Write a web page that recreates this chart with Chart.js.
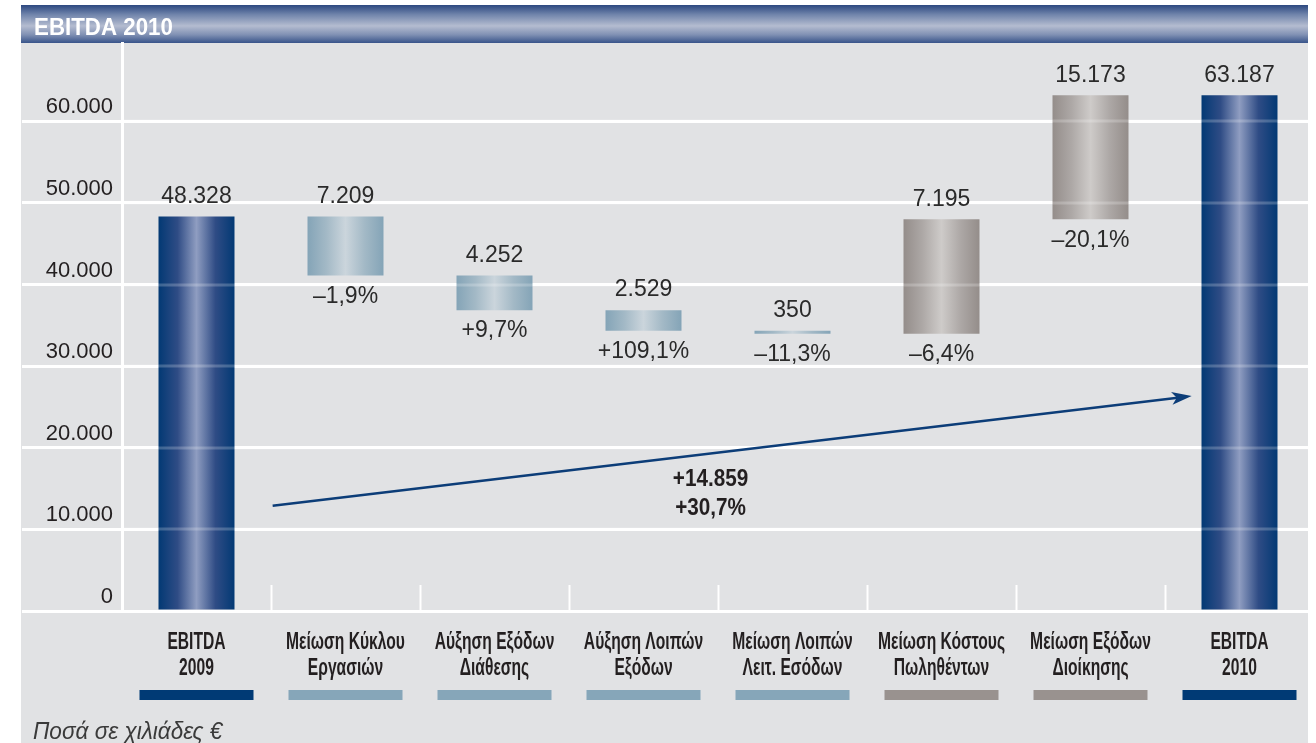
<!DOCTYPE html>
<html>
<head>
<meta charset="utf-8">
<title>EBITDA 2010</title>
<script src="https://cdn.jsdelivr.net/npm/chart.js@4.4.1/dist/chart.umd.min.js"></script>
<style>
  html, body { margin: 0; padding: 0; background: #fff; }
  body { width: 1316px; height: 743px; overflow: hidden; }
  canvas { display: block; }
</style>
</head>
<body>
<canvas class="ebitdaChart" width="1316" height="743"></canvas>
<script>
"use strict";

const categories = [
  ["EBITDA", "2009"],
  ["Μείωση Κύκλου", "Εργασιών"],
  ["Αύξηση Εξόδων", "Διάθεσης"],
  ["Αύξηση Λοιπών", "Εξόδων"],
  ["Μείωση Λοιπών", "Λειτ. Εσόδων"],
  ["Μείωση Κόστους", "Πωληθέντων"],
  ["Μείωση Εξόδων", "Διοίκησης"],
  ["EBITDA", "2010"],
];
// floating bars: bottom and top of each block (thousand €)
const barLow = [0, 41119, 36867, 34338, 33988, 33988, 48014, 0];
const barHigh = [48328, 48328, 41119, 36867, 34338, 48014, 63187, 63187];
const valueLabels = ["48.328", "7.209", "4.252", "2.529", "350", "7.195", "15.173", "63.187"];
const changeLabels = ["", "–1,9%", "+9,7%", "+109,1%", "–11,3%", "–6,4%", "–20,1%", ""];
const groups = ["total", "blue", "blue", "blue", "blue", "gray", "gray", "total"];

const yTicks = [0, 10000, 20000, 30000, 40000, 50000, 60000];
const yMax = 69600;

// arrow from 2009 to 2010: (category position, value), tip at arrowTo
const arrowFrom = [0.511, 12903];
const arrowTo = [6.679, 26345];
const arrowLabelAt = [3.45, 14280];
const arrowLabels = ["+14.859", "+30,7%"];

const title = "EBITDA 2010";
const footnote = "Ποσά σε χιλιάδες €";

const swatch = { total: "#003a75", blue: "#86a6b9", gray: "#99928f" };
const shades = {
  total: ["#023974", "#2f4c85", "#8f9dc1", "#2f4c85", "#023974"],
  blue: ["#84a4b7", "#a3b9c6", "#cbd5dc", "#a3b9c6", "#84a4b7"],
  gray: ["#948d8a", "#ada8a6", "#cecbc9", "#ada8a6", "#948d8a"],
};

const sans = "'Liberation Sans', Arial, sans-serif";
const ink = "#231f20";

const fmt = (v) => String(v).replace(/\B(?=(\d{3})+(?!\d))/g, ".");

// text squeezed horizontally, to get the condensed look of the original
function squeezed(c, text, x, y, sx, align) {
  c.save();
  c.translate(x, y);
  c.scale(sx, 1);
  c.textAlign = align;
  c.fillText(text, 0, 0);
  c.restore();
}

const ctx = document.querySelector(".ebitdaChart");

const barFill = (c) => {
  const xs = c.chart.scales.x;
  const stops = shades[groups[c.dataIndex]];
  if (!xs || !xs.width) return stops[0];
  const cx = xs.getPixelForValue(c.dataIndex);
  const half = (xs.width / categories.length) * 0.51 / 2;
  const g = c.chart.ctx.createLinearGradient(cx - half, 0, cx + half, 0);
  stops.forEach((col, i) => g.addColorStop(i / (stops.length - 1), col));
  return g;
};

const framePlugin = {
  id: "frame",
  beforeDraw(chart) {
    const c = chart.ctx;
    c.save();
    c.fillStyle = "#fff";
    c.fillRect(0, 0, chart.width, chart.height);
    c.fillStyle = "#e1e2e4";
    c.fillRect(21, 43, 1287, 700);
    const g = c.createLinearGradient(0, 5, 0, 43);
    g.addColorStop(0, "#2c4880");
    g.addColorStop(0.25, "#7084ab");
    g.addColorStop(0.55, "#b4bcd0");
    g.addColorStop(0.78, "#8191b4");
    g.addColorStop(1, "#38548a");
    c.fillStyle = g;
    c.fillRect(21, 5, 1287, 38);
    c.fillStyle = "#fff";
    c.font = "bold 23px " + sans;
    c.textBaseline = "alphabetic";
    squeezed(c, title, 34, 35, 0.97, "left");
    c.restore();
  },
  afterDraw(chart) {
    const c = chart.ctx;
    const xs = chart.scales.x;
    c.save();
    // category names and colour keys under the axis
    c.fillStyle = ink;
    c.font = "bold 23px " + sans;
    c.textBaseline = "middle";
    categories.forEach((lines, i) => {
      const x = xs.getPixelForValue(i);
      lines.forEach((t, j) => squeezed(c, t, x, 643 + j * 26, 0.68, "center"));
      c.fillStyle = swatch[groups[i]];
      c.fillRect(x - 57, 690, 114, 10);
      c.fillStyle = ink;
    });
    c.fillStyle = "#3a3a3a";
    c.font = "italic 24px " + sans;
    c.textBaseline = "alphabetic";
    squeezed(c, footnote, 33, 739, 0.94, "left");
    c.restore();
  },
};

const labelPlugin = {
  id: "barLabels",
  afterDatasetsDraw(chart) {
    const c = chart.ctx;
    const area = chart.chartArea;
    const xs = chart.scales.x;
    const ys = chart.scales.y;
    const meta = chart.getDatasetMeta(0);
    c.save();
    // gridlines show faintly through the blocks
    c.strokeStyle = "rgba(255,255,255,0.22)";
    c.lineWidth = 3;
    yTicks.slice(1).forEach((v) => {
      const y = Math.round(ys.getPixelForValue(v));
      c.beginPath();
      c.moveTo(area.left, y);
      c.lineTo(area.right, y);
      c.stroke();
    });

    c.fillStyle = "#2a2a2a";
    c.font = "23px " + sans;
    c.textAlign = "center";
    c.textBaseline = "middle";
    meta.data.forEach((el, i) => {
      const top = Math.min(el.y, el.base);
      const bottom = Math.max(el.y, el.base);
      c.fillText(valueLabels[i], el.x, top - 20);
      if (changeLabels[i]) c.fillText(changeLabels[i], el.x, bottom + 21);
    });

    // the growth arrow
    const x0 = xs.getPixelForValue(arrowFrom[0]);
    const y0 = ys.getPixelForValue(arrowFrom[1]);
    const x1 = xs.getPixelForValue(arrowTo[0]);
    const y1 = ys.getPixelForValue(arrowTo[1]);
    const len = Math.hypot(x1 - x0, y1 - y0);
    const ux = (x1 - x0) / len;
    const uy = (y1 - y0) / len;
    c.strokeStyle = "#0c3d78";
    c.fillStyle = "#0c3d78";
    c.lineWidth = 2.5;
    c.beginPath();
    c.moveTo(x0, y0);
    c.lineTo(x1 - ux * 14, y1 - uy * 14);
    c.stroke();
    c.beginPath();
    c.moveTo(x1, y1);
    c.lineTo(x1 - ux * 20 - uy * 6.5, y1 - uy * 20 + ux * 6.5);
    c.lineTo(x1 - ux * 15, y1 - uy * 15);
    c.lineTo(x1 - ux * 20 + uy * 6.5, y1 - uy * 20 - ux * 6.5);
    c.closePath();
    c.fill();

    const tx = xs.getPixelForValue(arrowLabelAt[0]);
    const ty = ys.getPixelForValue(arrowLabelAt[1]);
    c.fillStyle = ink;
    c.font = "bold 23px " + sans;
    squeezed(c, arrowLabels[0], tx, ty - 14.5, 0.9, "center");
    squeezed(c, arrowLabels[1], tx, ty + 14.5, 0.9, "center");
    c.restore();
  },
};

const myChart = new Chart(ctx, {
  type: "bar",
  data: {
    labels: categories,
    datasets: [
      {
        label: "EBITDA",
        data: barLow.map((lo, i) => [lo, barHigh[i]]),
        backgroundColor: barFill,
        borderWidth: 0,
        barPercentage: 0.51,
        categoryPercentage: 1,
      },
    ],
  },
  options: {
    responsive: false,
    animation: false,
    events: [],
    layout: { autoPadding: false, padding: { left: 22, top: 43, right: 2, bottom: 0 } },
    plugins: {
      legend: { display: false },
      tooltip: { enabled: false },
    },
    scales: {
      x: {
        afterFit: (s) => { s.height = 132; },
        grid: {
          display: true,
          drawOnChartArea: false,
          drawTicks: true,
          tickLength: -26,
          tickWidth: 2,
          tickColor: (c) =>
            c.index > 0 && c.index < categories.length ? "#fff" : "rgba(0,0,0,0)",
        },
        border: { display: true, color: "#fff", width: 3 },
        ticks: { display: false },
      },
      y: {
        min: 0,
        max: yMax,
        afterFit: (s) => { s.width = 100; },
        afterBuildTicks: (s) => { s.ticks = yTicks.map((v) => ({ value: v })); },
        grid: {
          color: "#fff",
          lineWidth: 3,
          drawTicks: true,
          tickLength: 100,
          tickColor: "#fff",
          tickWidth: 3,
        },
        border: { display: true, color: "#fff", width: 3 },
        ticks: {
          color: ink,
          font: { family: sans, size: 22 },
          padding: -91,
          labelOffset: -14,
          callback: (v) => fmt(v),
        },
      },
    },
  },
  plugins: [framePlugin, labelPlugin],
});
</script>
</body>
</html>
